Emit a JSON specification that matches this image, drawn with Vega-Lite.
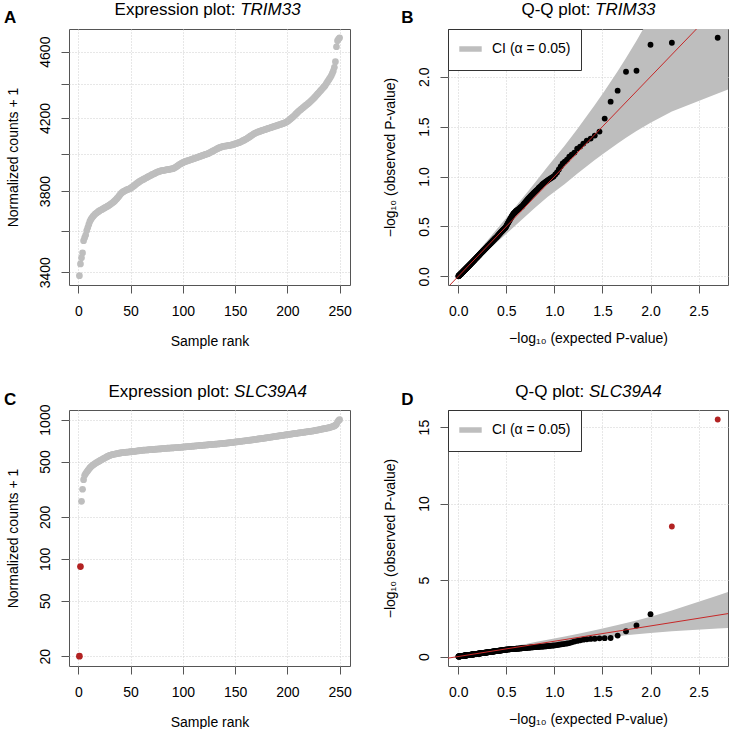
{
"$schema": "https://vega.github.io/schema/vega-lite/v6.json",
"background": "white",
"padding": {"left": 2, "top": 0, "right": 0, "bottom": 0},
"spacing": 32,
"resolve": {"scale": {"color": "independent"}, "legend": {"color": "independent"}},
"config": {
  "font": "Liberation Sans",
  "view": {"stroke": "#555", "strokeWidth": 1},
  "axis": {"labelFont": "Liberation Sans", "titleFont": "Liberation Sans", "labelFontSize": 14, "titleFontSize": 14, "titleFontWeight": "normal", "labelColor": "#000", "titleColor": "#000", "tickColor": "#555", "tickSize": 8, "domain": false, "gridColor": "#cfcfcf", "gridDash": [1, 2], "gridWidth": 1, "labelFlush": false, "labelOverlap": false, "labelPadding": 11, "titleLimit": 1000},
  "axisLeft": {"labelAngle": 270, "labelAlign": "center", "labelBaseline": "alphabetic", "labelPadding": 12, "titleAngle": 270, "titleBaseline": "alphabetic", "titleAlign": "center"},
  "axisBottom": {"titleBaseline": "alphabetic"},
  "axisTop": {"ticks": false, "labels": false, "grid": false, "domain": false, "titleFontSize": 17, "titleBaseline": "alphabetic", "titlePadding": 0}
},
"datasets": {
"s": [
{"r":1,"e":2.699,"a":3384,"b":2.39,"c":20,"d":15.5,"o":1},
{"r":2,"e":2.222,"a":3439,"b":2.34,"c":88,"d":8.5,"o":1},
{"r":3,"e":2.000,"a":3468,"b":2.32,"c":259,"d":2.77},
{"r":4,"e":1.854,"a":3491,"b":2.06,"c":316,"d":2.03},
{"r":5,"e":1.745,"a":3550,"b":2.05,"c":370,"d":1.65},
{"r":6,"e":1.658,"a":3565,"b":1.86,"c":398,"d":1.37},
{"r":7,"e":1.585,"a":3578,"b":1.75,"c":410,"d":1.21},
{"r":8,"e":1.523,"a":3600,"b":1.58,"c":420,"d":1.20},
{"r":9,"e":1.469,"a":3615,"b":1.45,"c":430,"d":1.19},
{"r":10,"e":1.420,"a":3630,"b":1.41,"c":440,"d":1.16},
{"r":11,"e":1.377,"a":3645,"b":1.38,"c":450,"d":1.15},
{"r":12,"e":1.337,"a":3655,"b":1.36,"c":458,"d":1.13},
{"r":13,"e":1.301,"a":3663,"b":1.33,"c":466,"d":1.10},
{"r":14,"e":1.268,"a":3670,"b":1.30,"c":472,"d":1.06},
{"r":15,"e":1.237,"a":3676,"b":1.28,"c":478,"d":1.02},
{"r":16,"e":1.208,"a":3682,"b":1.24,"c":484,"d":0.98},
{"r":17,"e":1.180,"a":3686,"b":1.22,"c":489,"d":0.93},
{"r":18,"e":1.155,"a":3690,"b":1.20,"c":494,"d":0.88},
{"r":19,"e":1.131,"a":3694,"b":1.17,"c":499,"d":0.85},
{"r":20,"e":1.108,"a":3698,"b":1.15,"c":504,"d":0.83},
{"r":21,"e":1.086,"a":3701,"b":1.13,"c":509,"d":0.81},
{"r":22,"e":1.066,"a":3704,"b":1.10,"c":514,"d":0.79},
{"r":23,"e":1.046,"a":3707,"b":1.07,"c":519,"d":0.77},
{"r":24,"e":1.027,"a":3710,"b":1.04,"c":524,"d":0.75},
{"r":25,"e":1.009,"a":3713,"b":1.02,"c":529,"d":0.73},
{"r":26,"e":0.991,"a":3716,"b":1.00,"c":534,"d":0.72},
{"r":27,"e":0.975,"a":3719,"b":0.99,"c":539,"d":0.71},
{"r":28,"e":0.959,"a":3722,"b":0.98,"c":544,"d":0.70},
{"r":29,"e":0.943,"a":3725,"b":0.97,"c":549,"d":0.69},
{"r":30,"e":0.928,"a":3729,"b":0.96,"c":553,"d":0.68},
{"r":31,"e":0.914,"a":3733,"b":0.95,"c":556,"d":0.67},
{"r":32,"e":0.900,"a":3737,"b":0.94,"c":559,"d":0.66},
{"r":33,"e":0.886,"a":3741,"b":0.93,"c":562,"d":0.655},
{"r":34,"e":0.873,"a":3745,"b":0.92,"c":564,"d":0.65},
{"r":35,"e":0.860,"a":3750,"b":0.905,"c":566,"d":0.645},
{"r":36,"e":0.848,"a":3756,"b":0.895,"c":568,"d":0.64},
{"r":37,"e":0.836,"a":3762,"b":0.885,"c":570,"d":0.635},
{"r":38,"e":0.824,"a":3768,"b":0.87,"c":572,"d":0.63},
{"r":39,"e":0.812,"a":3775,"b":0.86,"c":574,"d":0.62},
{"r":40,"e":0.801,"a":3782,"b":0.85,"c":576,"d":0.615},
{"r":41,"e":0.790,"a":3788,"b":0.84,"c":577,"d":0.61},
{"r":42,"e":0.780,"a":3793,"b":0.83,"c":579,"d":0.605},
{"r":43,"e":0.770,"a":3797,"b":0.82,"c":580,"d":0.60},
{"r":44,"e":0.759,"a":3800,"b":0.81,"c":581,"d":0.595},
{"r":45,"e":0.750,"a":3803,"b":0.80,"c":582,"d":0.59},
{"r":46,"e":0.740,"a":3806,"b":0.79,"c":583,"d":0.585},
{"r":47,"e":0.730,"a":3808,"b":0.78,"c":584,"d":0.58},
{"r":48,"e":0.721,"a":3810,"b":0.77,"c":585,"d":0.575},
{"r":49,"e":0.712,"a":3812,"b":0.76,"c":586,"d":0.57},
{"r":50,"e":0.703,"a":3815,"b":0.75,"c":588,"d":0.565},
{"r":51,"e":0.695,"a":3819,"b":0.74,"c":589,"d":0.56},
{"r":52,"e":0.686,"a":3823,"b":0.73,"c":590,"d":0.555},
{"r":53,"e":0.678,"a":3827,"b":0.72,"c":591,"d":0.55},
{"r":54,"e":0.670,"a":3831,"b":0.71,"c":592,"d":0.545},
{"r":55,"e":0.662,"a":3836,"b":0.70,"c":594,"d":0.54},
{"r":56,"e":0.654,"a":3840,"b":0.695,"c":595,"d":0.535},
{"r":57,"e":0.646,"a":3844,"b":0.69,"c":596,"d":0.53},
{"r":58,"e":0.638,"a":3848,"b":0.68,"c":598,"d":0.525},
{"r":59,"e":0.631,"a":3852,"b":0.675,"c":599,"d":0.52},
{"r":60,"e":0.623,"a":3855,"b":0.67,"c":600,"d":0.52},
{"r":61,"e":0.616,"a":3858,"b":0.665,"c":602,"d":0.515},
{"r":62,"e":0.609,"a":3861,"b":0.66,"c":603,"d":0.51},
{"r":63,"e":0.602,"a":3864,"b":0.655,"c":604,"d":0.51},
{"r":64,"e":0.595,"a":3867,"b":0.65,"c":605,"d":0.505},
{"r":65,"e":0.588,"a":3870,"b":0.64,"c":605,"d":0.50},
{"r":66,"e":0.582,"a":3873,"b":0.635,"c":606,"d":0.50},
{"r":67,"e":0.575,"a":3876,"b":0.63,"c":607,"d":0.495},
{"r":68,"e":0.569,"a":3879,"b":0.62,"c":608,"d":0.49},
{"r":69,"e":0.562,"a":3882,"b":0.61,"c":609,"d":0.49},
{"r":70,"e":0.556,"a":3885,"b":0.60,"c":610,"d":0.485},
{"r":71,"e":0.550,"a":3888,"b":0.59,"c":610,"d":0.48},
{"r":72,"e":0.544,"a":3890,"b":0.58,"c":611,"d":0.48},
{"r":73,"e":0.538,"a":3893,"b":0.57,"c":612,"d":0.475},
{"r":74,"e":0.532,"a":3896,"b":0.56,"c":613,"d":0.47},
{"r":75,"e":0.526,"a":3899,"b":0.55,"c":614,"d":0.47},
{"r":76,"e":0.520,"a":3901,"b":0.54,"c":615,"d":0.465},
{"r":77,"e":0.514,"a":3903,"b":0.53,"c":616,"d":0.46},
{"r":78,"e":0.509,"a":3905,"b":0.52,"c":616,"d":0.46},
{"r":79,"e":0.503,"a":3907,"b":0.51,"c":617,"d":0.455},
{"r":80,"e":0.498,"a":3908,"b":0.50,"c":618,"d":0.45},
{"r":81,"e":0.492,"a":3909,"b":0.49,"c":619,"d":0.445},
{"r":82,"e":0.487,"a":3910,"b":0.485,"c":620,"d":0.44},
{"r":83,"e":0.481,"a":3911,"b":0.48,"c":621,"d":0.435},
{"r":84,"e":0.476,"a":3912,"b":0.475,"c":622,"d":0.43},
{"r":85,"e":0.471,"a":3913,"b":0.47,"c":623,"d":0.425},
{"r":86,"e":0.466,"a":3914,"b":0.465,"c":623,"d":0.42},
{"r":87,"e":0.461,"a":3915,"b":0.46,"c":624,"d":0.415},
{"r":88,"e":0.456,"a":3916,"b":0.455,"c":625,"d":0.41},
{"r":89,"e":0.451,"a":3917,"b":0.45,"c":626,"d":0.405},
{"r":90,"e":0.446,"a":3918,"b":0.445,"c":626,"d":0.40},
{"r":91,"e":0.441,"a":3920,"b":0.44,"c":627,"d":0.397},
{"r":92,"e":0.437,"a":3923,"b":0.435,"c":628,"d":0.393},
{"r":93,"e":0.432,"a":3926,"b":0.43,"c":629,"d":0.389},
{"r":94,"e":0.427,"a":3930,"b":0.425,"c":629,"d":0.385},
{"r":95,"e":0.423,"a":3934,"b":0.42,"c":630,"d":0.381},
{"r":96,"e":0.418,"a":3938,"b":0.415,"c":631,"d":0.377},
{"r":97,"e":0.413,"a":3942,"b":0.41,"c":632,"d":0.373},
{"r":98,"e":0.409,"a":3945,"b":0.405,"c":633,"d":0.369},
{"r":99,"e":0.405,"a":3948,"b":0.40,"c":634,"d":0.365},
{"r":100,"e":0.400,"a":3951,"b":0.395,"c":635,"d":0.361},
{"r":101,"e":0.396,"a":3954,"b":0.391,"c":636,"d":0.357},
{"r":102,"e":0.391,"a":3956,"b":0.387,"c":637,"d":0.353},
{"r":103,"e":0.387,"a":3958,"b":0.383,"c":638,"d":0.349},
{"r":104,"e":0.383,"a":3960,"b":0.379,"c":639,"d":0.345},
{"r":105,"e":0.379,"a":3962,"b":0.375,"c":640,"d":0.341},
{"r":106,"e":0.375,"a":3964,"b":0.371,"c":641,"d":0.337},
{"r":107,"e":0.371,"a":3966,"b":0.367,"c":642,"d":0.334},
{"r":108,"e":0.367,"a":3968,"b":0.363,"c":643,"d":0.330},
{"r":109,"e":0.363,"a":3970,"b":0.359,"c":644,"d":0.327},
{"r":110,"e":0.359,"a":3972,"b":0.355,"c":645,"d":0.323},
{"r":111,"e":0.355,"a":3974,"b":0.351,"c":646,"d":0.320},
{"r":112,"e":0.351,"a":3976,"b":0.347,"c":647,"d":0.316},
{"r":113,"e":0.347,"a":3978,"b":0.343,"c":648,"d":0.312},
{"r":114,"e":0.343,"a":3980,"b":0.339,"c":649,"d":0.309},
{"r":115,"e":0.339,"a":3982,"b":0.335,"c":650,"d":0.305},
{"r":116,"e":0.335,"a":3984,"b":0.331,"c":651,"d":0.302},
{"r":117,"e":0.332,"a":3986,"b":0.328,"c":652,"d":0.299},
{"r":118,"e":0.328,"a":3988,"b":0.324,"c":653,"d":0.295},
{"r":119,"e":0.324,"a":3990,"b":0.320,"c":654,"d":0.292},
{"r":120,"e":0.321,"a":3992,"b":0.317,"c":655,"d":0.289},
{"r":121,"e":0.317,"a":3994,"b":0.313,"c":656,"d":0.285},
{"r":122,"e":0.313,"a":3996,"b":0.309,"c":657,"d":0.282},
{"r":123,"e":0.310,"a":3998,"b":0.306,"c":658,"d":0.279},
{"r":124,"e":0.306,"a":4000,"b":0.302,"c":659,"d":0.275},
{"r":125,"e":0.303,"a":4003,"b":0.299,"c":660,"d":0.273},
{"r":126,"e":0.299,"a":4006,"b":0.295,"c":661,"d":0.269},
{"r":127,"e":0.296,"a":4009,"b":0.292,"c":662,"d":0.266},
{"r":128,"e":0.292,"a":4012,"b":0.288,"c":663,"d":0.263},
{"r":129,"e":0.289,"a":4015,"b":0.285,"c":664,"d":0.260},
{"r":130,"e":0.286,"a":4018,"b":0.282,"c":665,"d":0.257},
{"r":131,"e":0.282,"a":4021,"b":0.278,"c":666,"d":0.254},
{"r":132,"e":0.279,"a":4024,"b":0.275,"c":667,"d":0.251},
{"r":133,"e":0.276,"a":4027,"b":0.272,"c":668,"d":0.248},
{"r":134,"e":0.272,"a":4030,"b":0.268,"c":669,"d":0.245},
{"r":135,"e":0.269,"a":4033,"b":0.265,"c":670,"d":0.242},
{"r":136,"e":0.266,"a":4035,"b":0.262,"c":671,"d":0.239},
{"r":137,"e":0.263,"a":4037,"b":0.259,"c":672,"d":0.237},
{"r":138,"e":0.260,"a":4039,"b":0.256,"c":673,"d":0.234},
{"r":139,"e":0.256,"a":4040,"b":0.252,"c":674,"d":0.230},
{"r":140,"e":0.253,"a":4041,"b":0.249,"c":675,"d":0.228},
{"r":141,"e":0.250,"a":4042,"b":0.246,"c":677,"d":0.225},
{"r":142,"e":0.247,"a":4043,"b":0.243,"c":678,"d":0.222},
{"r":143,"e":0.244,"a":4044,"b":0.240,"c":680,"d":0.220},
{"r":144,"e":0.241,"a":4045,"b":0.237,"c":681,"d":0.217},
{"r":145,"e":0.238,"a":4046,"b":0.234,"c":683,"d":0.214},
{"r":146,"e":0.235,"a":4047,"b":0.231,"c":684,"d":0.212},
{"r":147,"e":0.232,"a":4048,"b":0.228,"c":686,"d":0.209},
{"r":148,"e":0.229,"a":4050,"b":0.225,"c":687,"d":0.206},
{"r":149,"e":0.226,"a":4052,"b":0.222,"c":689,"d":0.203},
{"r":150,"e":0.223,"a":4054,"b":0.219,"c":690,"d":0.201},
{"r":151,"e":0.220,"a":4056,"b":0.216,"c":692,"d":0.198},
{"r":152,"e":0.218,"a":4058,"b":0.214,"c":693,"d":0.196},
{"r":153,"e":0.215,"a":4060,"b":0.211,"c":695,"d":0.194},
{"r":154,"e":0.212,"a":4062,"b":0.208,"c":696,"d":0.191},
{"r":155,"e":0.209,"a":4064,"b":0.205,"c":698,"d":0.188},
{"r":156,"e":0.206,"a":4067,"b":0.202,"c":699,"d":0.185},
{"r":157,"e":0.203,"a":4070,"b":0.199,"c":701,"d":0.183},
{"r":158,"e":0.201,"a":4073,"b":0.197,"c":702,"d":0.181},
{"r":159,"e":0.198,"a":4076,"b":0.194,"c":704,"d":0.178},
{"r":160,"e":0.195,"a":4079,"b":0.191,"c":705,"d":0.176},
{"r":161,"e":0.192,"a":4082,"b":0.188,"c":707,"d":0.173},
{"r":162,"e":0.190,"a":4086,"b":0.186,"c":708,"d":0.171},
{"r":163,"e":0.187,"a":4090,"b":0.183,"c":710,"d":0.168},
{"r":164,"e":0.184,"a":4094,"b":0.180,"c":711,"d":0.166},
{"r":165,"e":0.182,"a":4098,"b":0.178,"c":713,"d":0.164},
{"r":166,"e":0.179,"a":4102,"b":0.175,"c":714,"d":0.161},
{"r":167,"e":0.177,"a":4106,"b":0.173,"c":716,"d":0.159},
{"r":168,"e":0.174,"a":4110,"b":0.170,"c":718,"d":0.157},
{"r":169,"e":0.171,"a":4113,"b":0.167,"c":720,"d":0.154},
{"r":170,"e":0.169,"a":4116,"b":0.165,"c":722,"d":0.152},
{"r":171,"e":0.166,"a":4119,"b":0.162,"c":724,"d":0.149},
{"r":172,"e":0.164,"a":4121,"b":0.160,"c":726,"d":0.148},
{"r":173,"e":0.161,"a":4123,"b":0.157,"c":727,"d":0.145},
{"r":174,"e":0.159,"a":4125,"b":0.155,"c":729,"d":0.143},
{"r":175,"e":0.156,"a":4127,"b":0.152,"c":730,"d":0.140},
{"r":176,"e":0.154,"a":4129,"b":0.150,"c":732,"d":0.139},
{"r":177,"e":0.151,"a":4131,"b":0.147,"c":734,"d":0.136},
{"r":178,"e":0.149,"a":4133,"b":0.145,"c":736,"d":0.134},
{"r":179,"e":0.146,"a":4135,"b":0.142,"c":738,"d":0.131},
{"r":180,"e":0.144,"a":4137,"b":0.140,"c":740,"d":0.130},
{"r":181,"e":0.141,"a":4139,"b":0.137,"c":742,"d":0.127},
{"r":182,"e":0.139,"a":4141,"b":0.135,"c":744,"d":0.125},
{"r":183,"e":0.137,"a":4143,"b":0.133,"c":746,"d":0.123},
{"r":184,"e":0.134,"a":4145,"b":0.130,"c":748,"d":0.121},
{"r":185,"e":0.132,"a":4147,"b":0.128,"c":750,"d":0.119},
{"r":186,"e":0.130,"a":4149,"b":0.126,"c":752,"d":0.117},
{"r":187,"e":0.127,"a":4151,"b":0.123,"c":754,"d":0.114},
{"r":188,"e":0.125,"a":4153,"b":0.121,"c":756,"d":0.113},
{"r":189,"e":0.123,"a":4155,"b":0.119,"c":758,"d":0.111},
{"r":190,"e":0.120,"a":4157,"b":0.116,"c":760,"d":0.108},
{"r":191,"e":0.118,"a":4159,"b":0.114,"c":762,"d":0.106},
{"r":192,"e":0.116,"a":4161,"b":0.112,"c":764,"d":0.104},
{"r":193,"e":0.114,"a":4163,"b":0.110,"c":766,"d":0.103},
{"r":194,"e":0.111,"a":4165,"b":0.107,"c":768,"d":0.100},
{"r":195,"e":0.109,"a":4167,"b":0.105,"c":770,"d":0.098},
{"r":196,"e":0.107,"a":4169,"b":0.103,"c":772,"d":0.096},
{"r":197,"e":0.105,"a":4171,"b":0.101,"c":774,"d":0.095},
{"r":198,"e":0.102,"a":4174,"b":0.098,"c":776,"d":0.092},
{"r":199,"e":0.100,"a":4177,"b":0.096,"c":778,"d":0.090},
{"r":200,"e":0.098,"a":4180,"b":0.094,"c":780,"d":0.088},
{"r":201,"e":0.096,"a":4185,"b":0.092,"c":782,"d":0.086},
{"r":202,"e":0.094,"a":4190,"b":0.090,"c":784,"d":0.085},
{"r":203,"e":0.092,"a":4195,"b":0.088,"c":786,"d":0.083},
{"r":204,"e":0.089,"a":4200,"b":0.086,"c":788,"d":0.080},
{"r":205,"e":0.087,"a":4205,"b":0.084,"c":790,"d":0.078},
{"r":206,"e":0.085,"a":4210,"b":0.082,"c":792,"d":0.077},
{"r":207,"e":0.083,"a":4216,"b":0.080,"c":794,"d":0.075},
{"r":208,"e":0.081,"a":4222,"b":0.078,"c":796,"d":0.073},
{"r":209,"e":0.079,"a":4228,"b":0.076,"c":798,"d":0.071},
{"r":210,"e":0.077,"a":4234,"b":0.074,"c":800,"d":0.069},
{"r":211,"e":0.075,"a":4240,"b":0.072,"c":802,"d":0.068},
{"r":212,"e":0.073,"a":4245,"b":0.070,"c":804,"d":0.066},
{"r":213,"e":0.071,"a":4250,"b":0.068,"c":806,"d":0.064},
{"r":214,"e":0.069,"a":4255,"b":0.066,"c":808,"d":0.062},
{"r":215,"e":0.067,"a":4260,"b":0.064,"c":810,"d":0.060},
{"r":216,"e":0.064,"a":4265,"b":0.062,"c":812,"d":0.058},
{"r":217,"e":0.062,"a":4270,"b":0.060,"c":814,"d":0.056},
{"r":218,"e":0.060,"a":4275,"b":0.058,"c":816,"d":0.054},
{"r":219,"e":0.058,"a":4280,"b":0.056,"c":818,"d":0.052},
{"r":220,"e":0.056,"a":4285,"b":0.054,"c":820,"d":0.050},
{"r":221,"e":0.055,"a":4290,"b":0.052,"c":822,"d":0.050},
{"r":222,"e":0.053,"a":4296,"b":0.050,"c":824,"d":0.048},
{"r":223,"e":0.051,"a":4302,"b":0.048,"c":826,"d":0.046},
{"r":224,"e":0.049,"a":4308,"b":0.046,"c":828,"d":0.044},
{"r":225,"e":0.047,"a":4314,"b":0.044,"c":830,"d":0.042},
{"r":226,"e":0.045,"a":4320,"b":0.043,"c":833,"d":0.041},
{"r":227,"e":0.043,"a":4327,"b":0.041,"c":836,"d":0.039},
{"r":228,"e":0.041,"a":4334,"b":0.039,"c":839,"d":0.037},
{"r":229,"e":0.039,"a":4341,"b":0.037,"c":842,"d":0.035},
{"r":230,"e":0.037,"a":4348,"b":0.035,"c":845,"d":0.033},
{"r":231,"e":0.035,"a":4355,"b":0.033,"c":848,"d":0.032},
{"r":232,"e":0.033,"a":4362,"b":0.031,"c":851,"d":0.030},
{"r":233,"e":0.032,"a":4369,"b":0.030,"c":854,"d":0.029},
{"r":234,"e":0.030,"a":4376,"b":0.028,"c":857,"d":0.027},
{"r":235,"e":0.028,"a":4383,"b":0.026,"c":860,"d":0.025},
{"r":236,"e":0.026,"a":4390,"b":0.024,"c":863,"d":0.023},
{"r":237,"e":0.024,"a":4400,"b":0.023,"c":866,"d":0.022},
{"r":238,"e":0.022,"a":4410,"b":0.021,"c":869,"d":0.020},
{"r":239,"e":0.020,"a":4420,"b":0.019,"c":872,"d":0.018},
{"r":240,"e":0.019,"a":4430,"b":0.018,"c":875,"d":0.017},
{"r":241,"e":0.017,"a":4440,"b":0.016,"c":880,"d":0.015},
{"r":242,"e":0.015,"a":4450,"b":0.014,"c":885,"d":0.014},
{"r":243,"e":0.013,"a":4465,"b":0.012,"c":890,"d":0.012},
{"r":244,"e":0.011,"a":4480,"b":0.011,"c":895,"d":0.010},
{"r":245,"e":0.010,"a":4502,"b":0.009,"c":900,"d":0.009},
{"r":246,"e":0.008,"a":4537,"b":0.007,"c":912,"d":0.007},
{"r":247,"e":0.006,"a":4631,"b":0.006,"c":925,"d":0.005},
{"r":248,"e":0.004,"a":4670,"b":0.004,"c":960,"d":0.004},
{"r":249,"e":0.003,"a":4680,"b":0.003,"c":985,"d":0.003},
{"r":250,"e":0.001,"a":4688,"b":0.001,"c":998,"d":0.001}
],
"ci": [
{"e":2.85,"lo":1.89,"hi":4.30},
{"e":2.699,"lo":1.831,"hi":3.994},
{"e":2.222,"lo":1.652,"hi":3.014},
{"e":2.000,"lo":1.539,"hi":2.606},
{"e":1.854,"lo":1.455,"hi":2.361},
{"e":1.745,"lo":1.388,"hi":2.188},
{"e":1.658,"lo":1.331,"hi":2.055},
{"e":1.523,"lo":1.239,"hi":1.860},
{"e":1.420,"lo":1.165,"hi":1.717},
{"e":1.237,"lo":1.027,"hi":1.474},
{"e":1.108,"lo":0.926,"hi":1.311},
{"e":0.928,"lo":0.795,"hi":1.098},
{"e":0.801,"lo":0.689,"hi":0.942},
{"e":0.703,"lo":0.605,"hi":0.824},
{"e":0.526,"lo":0.449,"hi":0.616},
{"e":0.400,"lo":0.338,"hi":0.471},
{"e":0.303,"lo":0.252,"hi":0.360},
{"e":0.223,"lo":0.182,"hi":0.270},
{"e":0.156,"lo":0.123,"hi":0.193},
{"e":0.098,"lo":0.072,"hi":0.127},
{"e":0.047,"lo":0.030,"hi":0.066},
{"e":0.019,"lo":0.008,"hi":0.031},
{"e":0.001,"lo":0.000,"hi":0.006}
]
},
"vconcat": [
{"spacing": 30,
 "resolve": {"scale": {"color": "independent"}, "legend": {"color": "independent"}},
 "hconcat": [
{
  "width": 281, "height": 256,
  "resolve": {"axis": {"x": "independent"}},
  "layer": [
    {"data": {"name": "s"},
     "mark": {"type": "circle", "size": 45, "opacity": 1, "color": "#bebebe"},
     "encoding": {
       "x": {"field": "r", "type": "quantitative", "scale": {"domain": [-8.96, 259.96], "nice": false, "zero": false},
             "axis": {"orient": "bottom", "grid": true, "values": [0, 50, 100, 150, 200, 250], "title": "Sample rank", "titleY": 60}},
       "y": {"field": "a", "type": "quantitative", "scale": {"type": "log", "domain": [3341, 4745], "nice": false},
             "axis": {"grid": true, "values": [3400, 3600, 3800, 4000, 4200, 4400, 4600], "format": "d", "labelExpr": "indexof([3400, 3800, 4200, 4600], datum.value) >= 0 ? datum.label : ''", "title": "Normalized counts + 1", "titleX": -51.6}}
     }},
    {"data": {"values": [{}]}, "mark": {"type": "point", "opacity": 0},
     "encoding": {"x": {"datum": 0, "type": "quantitative", "axis": {"orient": "top", "title": "A", "titleX": -65.6, "titleY": -6.6, "titleAlign": "left", "titleFontWeight": "bold"}}, "y": {"datum": 4000, "type": "quantitative"}}},
    {"data": {"values": [{}]}, "mark": {"type": "point", "opacity": 0},
     "encoding": {"x": {"datum": 0, "type": "quantitative", "axis": {"orient": "top", "title": "Expression plot:", "titleX": 166, "titleY": -14.4, "titleAlign": "right"}}, "y": {"datum": 4000, "type": "quantitative"}}},
    {"data": {"values": [{}]}, "mark": {"type": "point", "opacity": 0},
     "encoding": {"x": {"datum": 0, "type": "quantitative", "axis": {"orient": "top", "title": "TRIM33", "titleX": 170.7, "titleY": -14.4, "titleAlign": "left", "titleFontStyle": "italic"}}, "y": {"datum": 4000, "type": "quantitative"}}}
  ]
},
{
  "width": 280, "height": 256,
  "resolve": {"axis": {"x": "independent"}},
  "layer": [
    {"data": {"name": "ci"},
     "mark": {"type": "area", "clip": true, "opacity": 1},
     "encoding": {
       "x": {"field": "e", "type": "quantitative", "scale": {"domain": [-0.107, 2.806], "nice": false, "zero": false},
             "axis": {"orient": "bottom", "grid": true, "values": [0, 0.5, 1, 1.5, 2, 2.5], "format": ".1f", "title": "−log₁₀ (expected P-value)", "titleY": 57}},
       "y": {"field": "hi", "type": "quantitative", "scale": {"domain": [-0.087, 2.478], "nice": false, "zero": false},
             "axis": {"grid": true, "values": [0, 0.5, 1, 1.5, 2], "format": ".1f", "title": "−log₁₀ (observed P-value)", "titleX": -54}},
       "y2": {"field": "lo"},
       "color": {"datum": "CI (α = 0.05)", "type": "nominal", "scale": {"range": ["#bebebe"]},
                 "legend": {"orient": "top-left", "offset": 0, "title": null, "symbolType": "M-1.6,0H1.6", "symbolSize": 196, "symbolStrokeWidth": 5.5, "symbolStrokeColor": "#bebebe", "symbolFillColor": "transparent", "symbolOffset": 2.5, "labelOffset": 11.5, "labelFontSize": 14, "labelFont": "Liberation Sans", "labelColor": "#000", "strokeColor": "#333", "fillColor": "#fff", "padding": 10, "cornerRadius": 0}}
     }},
    {"data": {"name": "s"},
     "mark": {"type": "circle", "size": 34, "opacity": 1},
     "encoding": {"x": {"field": "e", "type": "quantitative", "axis": null}, "y": {"field": "b", "type": "quantitative"}, "color": {"value": "#000"}}},
    {"data": {"values": [{}]},
     "mark": {"type": "rule", "color": "#c62828", "strokeWidth": 1, "clip": true},
     "encoding": {"x": {"datum": -1, "type": "quantitative", "axis": null}, "y": {"datum": -1, "type": "quantitative"}, "x2": {"datum": 20}, "y2": {"datum": 20}}},
    {"data": {"values": [{}]}, "mark": {"type": "point", "opacity": 0},
     "encoding": {"x": {"datum": 0, "type": "quantitative", "axis": {"orient": "top", "title": "B", "titleX": -47.3, "titleY": -6.6, "titleAlign": "left", "titleFontWeight": "bold"}}, "y": {"datum": 1, "type": "quantitative"}}},
    {"data": {"values": [{}]}, "mark": {"type": "point", "opacity": 0},
     "encoding": {"x": {"datum": 0, "type": "quantitative", "axis": {"orient": "top", "title": "Q-Q plot:", "titleX": 141.9, "titleY": -14.4, "titleAlign": "right"}}, "y": {"datum": 1, "type": "quantitative"}}},
    {"data": {"values": [{}]}, "mark": {"type": "point", "opacity": 0},
     "encoding": {"x": {"datum": 0, "type": "quantitative", "axis": {"orient": "top", "title": "TRIM33", "titleX": 146.6, "titleY": -14.4, "titleAlign": "left", "titleFontStyle": "italic"}}, "y": {"datum": 1, "type": "quantitative"}}}
  ]
}
]},
{"spacing": 30,
 "resolve": {"scale": {"color": "independent"}, "legend": {"color": "independent"}},
 "hconcat": [
{
  "width": 281, "height": 256,
  "resolve": {"axis": {"x": "independent"}},
  "layer": [
    {"data": {"name": "s"},
     "mark": {"type": "circle", "size": 45, "opacity": 1},
     "encoding": {
       "x": {"field": "r", "type": "quantitative", "scale": {"domain": [-8.96, 259.96], "nice": false, "zero": false},
             "axis": {"orient": "bottom", "grid": true, "values": [0, 50, 100, 150, 200, 250], "title": "Sample rank", "titleY": 60}},
       "y": {"field": "c", "type": "quantitative", "scale": {"type": "log", "domain": [17, 1172], "nice": false},
             "axis": {"grid": true, "values": [20, 50, 100, 200, 500, 1000], "format": "d", "title": "Normalized counts + 1", "titleX": -51.6}},
       "color": {"condition": {"test": "datum.o == 1", "value": "#b22222"}, "value": "#bebebe"}
     }},
    {"data": {"values": [{}]}, "mark": {"type": "point", "opacity": 0},
     "encoding": {"x": {"datum": 0, "type": "quantitative", "axis": {"orient": "top", "title": "C", "titleX": -65.6, "titleY": -6, "titleAlign": "left", "titleFontWeight": "bold"}}, "y": {"datum": 100, "type": "quantitative"}}},
    {"data": {"values": [{}]}, "mark": {"type": "point", "opacity": 0},
     "encoding": {"x": {"datum": 0, "type": "quantitative", "axis": {"orient": "top", "title": "Expression plot:", "titleX": 159.9, "titleY": -13.8, "titleAlign": "right"}}, "y": {"datum": 100, "type": "quantitative"}}},
    {"data": {"values": [{}]}, "mark": {"type": "point", "opacity": 0},
     "encoding": {"x": {"datum": 0, "type": "quantitative", "axis": {"orient": "top", "title": "SLC39A4", "titleX": 164.6, "titleY": -13.8, "titleAlign": "left", "titleFontStyle": "italic"}}, "y": {"datum": 100, "type": "quantitative"}}}
  ]
},
{
  "width": 280, "height": 256,
  "resolve": {"axis": {"x": "independent"}},
  "layer": [
    {"data": {"name": "ci"},
     "mark": {"type": "area", "clip": true, "opacity": 1},
     "encoding": {
       "x": {"field": "e", "type": "quantitative", "scale": {"domain": [-0.107, 2.806], "nice": false, "zero": false},
             "axis": {"orient": "bottom", "grid": true, "values": [0, 0.5, 1, 1.5, 2, 2.5], "format": ".1f", "title": "−log₁₀ (expected P-value)", "titleY": 57}},
       "y": {"field": "hi", "type": "quantitative", "scale": {"domain": [-0.62, 16.12], "nice": false, "zero": false},
             "axis": {"grid": true, "values": [0, 5, 10, 15], "format": "d", "title": "−log₁₀ (observed P-value)", "titleX": -54}},
       "y2": {"field": "lo"},
       "color": {"datum": "CI (α = 0.05)", "type": "nominal", "scale": {"range": ["#bebebe"]},
                 "legend": {"orient": "top-left", "offset": 0, "title": null, "symbolType": "M-1.6,0H1.6", "symbolSize": 196, "symbolStrokeWidth": 5.5, "symbolStrokeColor": "#bebebe", "symbolFillColor": "transparent", "symbolOffset": 2.5, "labelOffset": 11.5, "labelFontSize": 14, "labelFont": "Liberation Sans", "labelColor": "#000", "strokeColor": "#333", "fillColor": "#fff", "padding": 10, "cornerRadius": 0}}
     }},
    {"data": {"name": "s"},
     "mark": {"type": "circle", "size": 34, "opacity": 1},
     "encoding": {"x": {"field": "e", "type": "quantitative", "axis": null}, "y": {"field": "d", "type": "quantitative"},
                  "color": {"condition": {"test": "datum.o == 1", "value": "#b22222"}, "value": "#000"}}},
    {"data": {"values": [{}]},
     "mark": {"type": "rule", "color": "#c62828", "strokeWidth": 1, "clip": true},
     "encoding": {"x": {"datum": -1, "type": "quantitative", "axis": null}, "y": {"datum": -1, "type": "quantitative"}, "x2": {"datum": 20}, "y2": {"datum": 20}}},
    {"data": {"values": [{}]}, "mark": {"type": "point", "opacity": 0},
     "encoding": {"x": {"datum": 0, "type": "quantitative", "axis": {"orient": "top", "title": "D", "titleX": -47.3, "titleY": -6, "titleAlign": "left", "titleFontWeight": "bold"}}, "y": {"datum": 1, "type": "quantitative"}}},
    {"data": {"values": [{}]}, "mark": {"type": "point", "opacity": 0},
     "encoding": {"x": {"datum": 0, "type": "quantitative", "axis": {"orient": "top", "title": "Q-Q plot:", "titleX": 135.8, "titleY": -13.8, "titleAlign": "right"}}, "y": {"datum": 1, "type": "quantitative"}}},
    {"data": {"values": [{}]}, "mark": {"type": "point", "opacity": 0},
     "encoding": {"x": {"datum": 0, "type": "quantitative", "axis": {"orient": "top", "title": "SLC39A4", "titleX": 140.5, "titleY": -13.8, "titleAlign": "left", "titleFontStyle": "italic"}}, "y": {"datum": 1, "type": "quantitative"}}}
  ]
}
]}
]
}
